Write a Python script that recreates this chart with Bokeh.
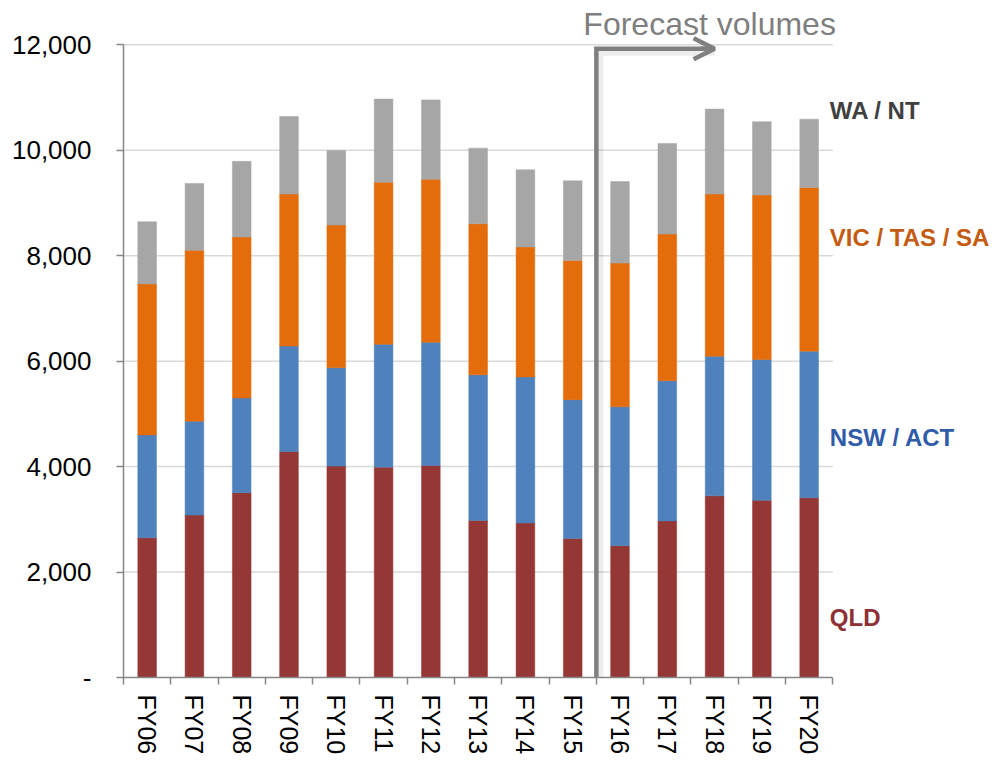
from bokeh.plotting import figure
from bokeh.models import (ColumnDataSource, Range1d, FixedTicker, CustomJSTickFormatter,
                          Label, Arrow, OpenHead)
from bokeh.embed import file_html
from bokeh.resources import INLINE

# ---------------- data ----------------
categories = ["FY06", "FY07", "FY08", "FY09", "FY10", "FY11", "FY12", "FY13",
              "FY14", "FY15", "FY16", "FY17", "FY18", "FY19", "FY20"]
qld = [2650, 3080, 3505, 4285, 4010, 3990, 4020, 2980, 2930, 2635, 2500, 2970, 3445, 3360, 3410]
nsw_act = [1950, 1780, 1795, 2000, 1865, 2330, 2340, 2760, 2770, 2635, 2635, 2660, 2650, 2670, 2780]
vic_tas_sa = [2865, 3245, 3055, 2885, 2705, 3075, 3090, 2865, 2465, 2640, 2725, 2780, 3075, 3120, 3105]
wa_nt = [1180, 1265, 1435, 1470, 1415, 1575, 1505, 1435, 1465, 1510, 1545, 1720, 1610, 1390, 1295]
series_names = ["QLD", "NSW / ACT", "VIC / TAS / SA", "WA / NT"]
y_ticks = [0, 2000, 4000, 6000, 8000, 10000, 12000]
first_forecast = "FY16"

# ---------------- styles / layout ----------------
FONT = "Liberation Sans"
bar_colors = ["#953735", "#4F81BD", "#E46C0A", "#A6A6A6"]
label_colors = ["#8E3036", "#2F5BA8", "#C55A11", "#404040"]
axis_color = "#868686"
grid_color = "#D9D9D9"
arrow_color = "#7F7F7F"

W, H = 992, 760
BORDER_LEFT, BORDER_BOTTOM = 123, 83
PLOT_W_PX = 709.3          # pixel width used by the category area
TOP_GAP_PX = 44.3          # pixels between frame top and the 12,000 line

n = len(categories)
y_max = y_ticks[-1]
frame_w = W - BORDER_LEFT
frame_h = H - BORDER_BOTTOM
x_end = n * frame_w / PLOT_W_PX
y_end = y_max * frame_h / (frame_h - TOP_GAP_PX)
x_per_px = n / PLOT_W_PX
y_per_px = y_max / (frame_h - TOP_GAP_PX)

src = ColumnDataSource(dict(
    x=[i + 0.5 for i in range(n)],
    qld=qld, nsw=nsw_act, vic=vic_tas_sa, wa=wa_nt,
))

p = figure(width=W, height=H, output_backend="svg", toolbar_location=None,
           x_range=Range1d(0, x_end), y_range=Range1d(0, y_end),
           min_border_left=BORDER_LEFT, min_border_right=0, min_border_top=0,
           min_border_bottom=BORDER_BOTTOM)
p.outline_line_color = None
p.background_fill_color = "white"
p.border_fill_color = "white"
p.xgrid.visible = False
p.ygrid.visible = False

# horizontal grid lines limited to the category area
grid_y = [t for t in y_ticks if t > 0]
p.segment(x0=[0] * len(grid_y), x1=[n] * len(grid_y), y0=grid_y, y1=grid_y,
          line_color=grid_color, line_width=1.5)

p.vbar_stack(["qld", "nsw", "vic", "wa"], x="x", width=0.395, source=src,
             fill_color=bar_colors, line_color=bar_colors, line_width=0.5)

# y axis
ya = p.yaxis[0]
ya.bounds = (0, y_max)
ya.ticker = FixedTicker(ticks=y_ticks)
ya.formatter = CustomJSTickFormatter(code="return tick == 0 ? '-' : tick.toLocaleString('en-US');")
ya.axis_line_color = axis_color
ya.axis_line_width = 1.5
ya.major_tick_line_color = axis_color
ya.major_tick_line_width = 1.5
ya.major_tick_in = 0
ya.major_tick_out = 7
ya.minor_tick_line_color = None
ya.major_label_text_font = FONT
ya.major_label_text_font_size = "26px"
ya.major_label_text_color = "#000000"
ya.major_label_standoff = 25

# x axis
xa = p.xaxis[0]
xa.bounds = (0, n)
xa.ticker = FixedTicker(ticks=[i + 0.5 for i in range(n)], minor_ticks=list(range(n + 1)))
xa.formatter = CustomJSTickFormatter(args=dict(labels=categories),
                                     code="return labels[Math.floor(tick)];")
xa.axis_line_color = axis_color
xa.axis_line_width = 1.5
xa.major_tick_line_alpha = 0
xa.major_tick_in = 0
xa.major_tick_out = 7
xa.minor_tick_line_color = axis_color
xa.minor_tick_line_width = 1.5
xa.minor_tick_in = 0
xa.minor_tick_out = 7
xa.major_label_orientation = "vertical"
xa.major_label_text_font = FONT
xa.major_label_text_font_size = "25px"
xa.major_label_text_color = "#000000"
xa.major_label_standoff = 10

# forecast divider + arrow
fx = categories.index(first_forecast)
arrow_y = y_max - 4 * y_per_px
arrow_end = fx + 2.5
sx, sy = 3 * x_per_px, 3 * y_per_px
p.line(x=[fx + sx, fx + sx, arrow_end], y=[-500, arrow_y - sy, arrow_y - sy],
       line_color="#000000", line_alpha=0.07, line_width=8)
p.line(x=[fx, fx, arrow_end - 0.05], y=[-500, arrow_y, arrow_y],
       line_color=arrow_color, line_width=4.5, line_join="miter")
p.add_layout(Arrow(end=OpenHead(size=21, line_color=arrow_color, line_width=4.5),
                   x_start=arrow_end - 0.3, y_start=arrow_y, x_end=arrow_end, y_end=arrow_y,
                   line_color=arrow_color, line_width=4.5))
p.add_layout(Label(x=fx - 13 * x_per_px, y=y_max + 21 * y_per_px,
                   text="Forecast volumes", text_font=FONT,
                   text_font_size="32px", text_color=arrow_color, text_baseline="alphabetic"))

# series labels on the right
label_y = [1143, 4555, 8347, 10754]
for name, col, ly in zip(series_names, label_colors, label_y):
    p.add_layout(Label(x=n - 3 * x_per_px, y=ly, text=name, text_font=FONT, text_font_style="bold",
                       text_font_size="24px", text_color=col, text_baseline="middle"))

open("out.html", "w").write(file_html(p, INLINE))
